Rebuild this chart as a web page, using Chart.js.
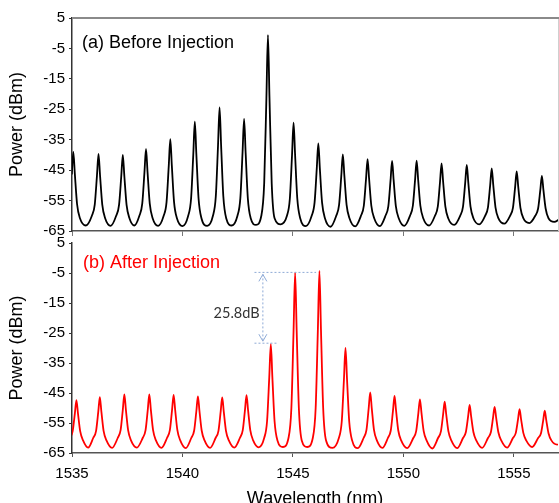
<!DOCTYPE html>
<html>
<head>
<meta charset="utf-8">
<script src="https://cdn.jsdelivr.net/npm/chart.js@4.4.1/dist/chart.umd.min.js"></script>
<style>
    html, body { margin: 0; padding: 0; background: #fff; overflow: hidden; }
    #wrap { position: relative; width: 559px; height: 503px; overflow: hidden; }
    #chartBottom { position: absolute; left: 0; top: 230px; }
    #chartTop { position: absolute; left: 0; top: 0; }
</style>
</head>
<body>
<div id="wrap">
    <canvas id="chartBottom" width="559" height="283"></canvas>
    <canvas id="chartTop" width="559" height="245"></canvas>
</div>
<script>
const xTicks = [1535, 1540, 1545, 1550, 1555];

// (a) before injection: peak wavelength (nm) and levels (dBm)
const wlBefore = [1535.06, 1536.20, 1537.30, 1538.35, 1539.45, 1540.56, 1541.68, 1542.79, 1543.87, 1545.03,
    1546.15, 1547.26, 1548.38, 1549.49, 1550.60, 1551.73, 1552.87, 1554.00, 1555.13, 1556.27];
const peakBefore = [-39.0, -39.7, -40.0, -38.0, -34.8, -29.1, -24.4, -28.2, -0.6, -29.4,
    -36.2, -39.8, -41.4, -42.0, -41.9, -42.8, -43.3, -44.4, -45.4, -46.9];
const nearBefore = [-46.4, -46.8, -47.0, -45.7, -43.6, -39.9, -36.9, -39.3, -21.4, -40.1,
    -44.5, -46.9, -47.9, -48.3, -48.2, -48.8, -49.1, -49.9, -50.5, -51.5];
const baseBefore = [-56.2, -56.3, -56.4, -56.0, -55.5, -54.4, -53.6, -54.3, -49.3, -54.5,
    -55.7, -56.4, -56.7, -56.8, -56.7, -56.9, -57.0, -57.2, -57.4, -57.6];
const troughBefore = [-63.3, -63.2, -63.3, -63.2, -63.3, -63.4, -63.3, -63.2, -63.0, -62.8,
    -63.4, -63.6, -63.5, -63.4, -63.3, -63.2, -63.0, -62.8, -62.6, -62.4, -62.0];
const shoulderBefore = [-60.0, -60.8];
const tailBefore = [1557.2, -60.3];

// (b) after injection
const wlAfter = [1535.20, 1536.26, 1537.37, 1538.50, 1539.60, 1540.70, 1541.80, 1542.90, 1544.00, 1545.10,
    1546.20, 1547.38, 1548.50, 1549.60, 1550.75, 1551.87, 1553.00, 1554.13, 1555.26, 1556.40];
const peakAfter = [-47.4, -46.4, -45.5, -45.5, -45.6, -46.1, -46.5, -45.7, -28.7, -4.9,
    -4.3, -30.0, -44.8, -46.0, -47.1, -47.9, -49.0, -49.6, -50.4, -50.9];
const nearAfter = [-51.8, -51.2, -50.6, -50.6, -50.6, -51.0, -51.2, -50.7, -39.7, -24.2,
    -23.8, -40.5, -50.1, -50.9, -51.6, -52.1, -52.9, -53.2, -53.8, -54.1];
const baseAfter = [-57.7, -57.6, -57.4, -57.4, -57.4, -57.5, -57.6, -57.4, -54.4, -50.1,
    -50.0, -54.6, -57.3, -57.5, -57.7, -57.8, -58.0, -58.1, -58.3, -58.4];
const troughAfter = [-63.2, -63.2, -63.3, -63.2, -63.3, -63.4, -63.3, -63.2, -63.1, -63.0,
    -63.0, -63.3, -63.4, -63.3, -63.4, -63.5, -63.4, -63.3, -63.2, -63.0, -62.2];
const shoulderAfter = [-60.0, -60.8];
const tailAfter = [1557.3, -60.3];

// side-mode suppression marker
const gapLevels = [-4.8, -28.4];
const gapLabel = '25.8dB';

const FONT = '"Liberation Sans", Arial, sans-serif';
Chart.defaults.font.family = FONT;

function montarEspectro(wl, peak, near, base, trough, shoulder, tail) {
    const pts = [];
    wl.forEach((w, i) => {
        const prev = i > 0 ? wl[i - 1] : w - 1.12;
        pts.push({ x: (prev + w) / 2, y: trough[i] });
        pts.push({ x: w - 0.30, y: shoulder[0] });
        pts.push({ x: w - 0.17, y: base[i] });
        pts.push({ x: w - 0.07, y: near[i] });
        pts.push({ x: w, y: peak[i] });
        pts.push({ x: w + 0.07, y: near[i] });
        pts.push({ x: w + 0.17, y: base[i] });
        pts.push({ x: w + 0.30, y: shoulder[1] });
    });
    const last = wl[wl.length - 1];
    pts.push({ x: last + 0.56, y: trough[trough.length - 1] });
    pts.push({ x: tail[0], y: tail[1] });
    return pts;
}

const spectrumBefore = montarEspectro(wlBefore, peakBefore, nearBefore, baseBefore, troughBefore, shoulderBefore, tailBefore);
const spectrumAfter = montarEspectro(wlAfter, peakAfter, nearAfter, baseAfter, troughAfter, shoulderAfter, tailAfter);

function painelLabel(text, color, dx, dy) {
    return {
        id: 'painelLabel',
        afterDraw(chart) {
            const { ctx, chartArea } = chart;
            ctx.save();
            ctx.font = '18px ' + FONT;
            ctx.fillStyle = color;
            ctx.textAlign = 'left';
            ctx.textBaseline = 'middle';
            ctx.fillText(text, chartArea.left + dx, chartArea.top + dy);
            ctx.restore();
        }
    };
}

const moldura = {
    id: 'moldura',
    afterDraw(chart) {
        const { ctx, chartArea: a } = chart;
        ctx.save();
        ctx.strokeStyle = '#cfcfcf';
        ctx.lineWidth = 1;
        ctx.beginPath();
        ctx.moveTo(a.right + 0.5, a.top);
        ctx.lineTo(a.right + 0.5, a.bottom);
        ctx.stroke();
        ctx.strokeStyle = '#8a8a8a';
        ctx.lineWidth = 2;
        ctx.beginPath();
        ctx.moveTo(a.left, a.top);
        ctx.lineTo(a.right + 1, a.top);
        ctx.stroke();
        ctx.restore();
    }
};

const marcador = {
    id: 'marcador',
    afterDraw(chart) {
        const { ctx, scales: { x, y } } = chart;
        const yTop = y.getPixelForValue(gapLevels[0]);
        const yBot = y.getPixelForValue(gapLevels[1]);
        const xArrow = x.getPixelForValue(1543.64);
        ctx.save();
        ctx.strokeStyle = '#8eaad6';
        ctx.lineWidth = 1;
        ctx.setLineDash([2, 2]);
        ctx.beginPath();
        ctx.moveTo(x.getPixelForValue(1543.26), yTop);
        ctx.lineTo(x.getPixelForValue(1546.05), yTop);
        ctx.moveTo(x.getPixelForValue(1543.26), yBot);
        ctx.lineTo(x.getPixelForValue(1544.3), yBot);
        ctx.moveTo(xArrow, yTop + 2);
        ctx.lineTo(xArrow, yBot - 2);
        ctx.stroke();
        ctx.setLineDash([]);
        ctx.beginPath();
        ctx.moveTo(xArrow - 4, yTop + 9);
        ctx.lineTo(xArrow, yTop + 2);
        ctx.lineTo(xArrow + 4, yTop + 9);
        ctx.moveTo(xArrow - 4, yBot - 9);
        ctx.lineTo(xArrow, yBot - 2);
        ctx.lineTo(xArrow + 4, yBot - 9);
        ctx.stroke();
        ctx.font = '14.5px Lato, "Open Sans", sans-serif';
        ctx.fillStyle = '#333';
        ctx.textAlign = 'center';
        ctx.textBaseline = 'middle';
        ctx.fillText(gapLabel, x.getPixelForValue(1542.45), y.getPixelForValue(-18.3));
        ctx.restore();
    }
};

function eixoY() {
    return {
        min: -65,
        max: 5,
        afterFit: s => { s.width = 72; },
        ticks: { stepSize: 10, color: '#000', padding: 4, font: { size: 15 } },
        grid: { drawOnChartArea: false, tickLength: 3, color: '#333' },
        border: { color: '#333', width: 1.5 },
        title: { display: true, text: 'Power (dBm)', color: '#000', font: { size: 18 }, padding: { top: 6, bottom: 0 } }
    };
}

function linha(data, color) {
    return {
        data: data,
        borderColor: color,
        borderWidth: 1.8,
        pointRadius: 0,
        fill: false,
        cubicInterpolationMode: 'monotone'
    };
}

new Chart(document.getElementById('chartTop'), {
    type: 'line',
    data: { datasets: [linha(spectrumBefore, '#000')] },
    options: {
        responsive: false,
        animation: false,
        layout: { padding: { top: 18, right: 1, left: 0, bottom: 0 } },
        plugins: { legend: { display: false }, tooltip: { enabled: false } },
        scales: {
            x: {
                type: 'linear',
                min: 1535,
                max: 1557,
                afterBuildTicks: s => { s.ticks = xTicks.map(v => ({ value: v })); },
                afterFit: s => { s.height = 14; },
                ticks: { display: false },
                grid: { drawOnChartArea: false, tickLength: 5, color: '#777' },
                border: { color: '#555', width: 1.5 }
            },
            y: eixoY()
        }
    },
    plugins: [moldura, painelLabel('(a) Before Injection', '#000', 10, 25)]
});

new Chart(document.getElementById('chartBottom'), {
    type: 'line',
    data: { datasets: [linha(spectrumAfter, '#ff0000')] },
    options: {
        responsive: false,
        animation: false,
        layout: { padding: { top: 9, right: 1, left: 0, bottom: 0 } },
        plugins: { legend: { display: false }, tooltip: { enabled: false } },
        scales: {
            x: {
                type: 'linear',
                min: 1535,
                max: 1557,
                afterBuildTicks: s => { s.ticks = xTicks.map(v => ({ value: v })); },
                afterFit: s => { s.height = 60; },
                ticks: { color: '#000', padding: 8, font: { size: 15 }, callback: v => String(v) },
                grid: { drawOnChartArea: false, tickLength: 4, color: '#555' },
                border: { color: '#555', width: 1.5 },
                title: { display: true, text: 'Wavelength (nm)', color: '#000', font: { size: 18 }, padding: { top: 0, bottom: 3 } }
            },
            y: eixoY()
        }
    },
    plugins: [marcador, painelLabel('(b) After Injection', '#ff0000', 11, 20.5)]
});
</script>
</body>
</html>
